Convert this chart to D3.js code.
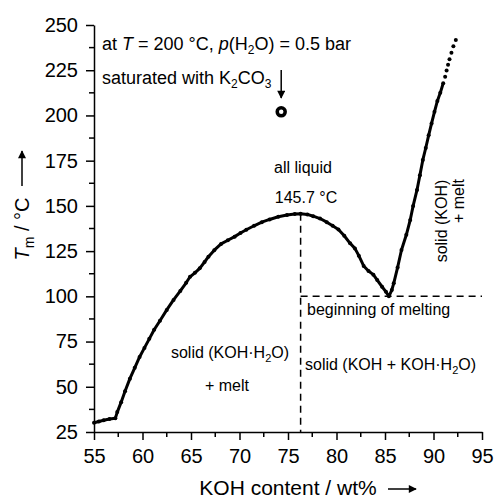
<!DOCTYPE html>
<html>
<head>
<meta charset="utf-8">
<script src="https://cdn.jsdelivr.net/npm/d3@7.9.0/dist/d3.min.js"></script>
<style>
  body { margin: 0; background: #fff; }
  svg { font-family: "Liberation Sans", Arial, sans-serif; }
</style>
</head>
<body>
<svg id="chart" width="495" height="501"></svg>
<script>
// measured melting curve (KOH wt%, Tm in °C)
const wt = [55.0, 55.5, 56.0, 56.6, 57.2, 57.4, 57.8, 58.2, 58.7, 59.2, 59.7, 60.2, 60.7, 61.2, 61.8,
  62.5, 63.2, 63.9, 64.5, 64.9, 65.4, 65.9, 66.4, 66.8, 67.4, 68.1, 68.8, 69.5, 70.1, 70.7,
  71.5, 72.3, 73.1, 74.0, 74.9, 75.7, 76.3, 77.0, 77.6, 78.3, 79.0, 79.6, 80.2, 80.8, 81.4,
  81.9, 82.3, 82.8, 83.3, 83.8, 84.2, 84.7, 85.1, 85.4, 85.7, 85.9, 86.3, 86.7, 87.2, 87.6,
  87.9, 88.3, 88.6, 88.9, 89.2, 89.5, 89.8, 90.1, 90.4, 90.7, 91.0];
const temp = [30.1, 30.8, 31.5, 32.2, 32.6, 36.0, 41.5, 47.5, 54.5, 60.5, 66.5, 71.5, 76.5, 81.5, 86.5,
  92.5, 98.0, 103.0, 107.5, 110.8, 113.0, 115.5, 119.0, 121.9, 125.5, 129.0, 131.0, 133.0, 135.0, 136.8,
  139.0, 141.0, 142.5, 144.0, 145.0, 145.5, 145.7, 145.3, 144.3, 143.0, 141.0, 139.0, 137.0, 133.5, 129.3,
  126.5, 122.5, 116.8, 114.0, 112.0, 109.0, 105.3, 102.5, 100.0, 103.5, 107.2, 116.0, 125.6, 134.0, 142.2,
  150.0, 158.8, 167.0, 175.4, 182.0, 189.0, 195.6, 202.0, 208.0, 212.5, 217.8];

// upper part shown only as dots
const wtDots = [91.2, 91.35, 91.5, 91.65, 91.85, 92.05, 92.3];
const tempDots = [221.4, 224.8, 228.0, 231.0, 234.6, 238.2, 241.7];

// K2CO3 saturated point
const satWt = [74.3];
const satTemp = [202];

// peak and eutectic
const peakWt = 76.3, peakT = 145.7, eutT = 100;

const xTicks = [55, 60, 65, 70, 75, 80, 85, 90, 95];
const yTicks = [25, 50, 75, 100, 125, 150, 175, 200, 225, 250];

const svg = d3.select('#chart');
const mLeft = 94, mRight = 482, mTop = 25, mBottom = 432;

const x = d3.scaleLinear().domain([55, 95]).range([mLeft, mRight]);
const y = d3.scaleLinear().domain([25, 250]).range([mBottom, mTop]);

const defs = svg.append('defs');
defs.append('marker')
  .attr('id', 'arr')
  .attr('viewBox', '0 0 10 10')
  .attr('refX', 9).attr('refY', 5)
  .attr('markerWidth', 10).attr('markerHeight', 8)
  .attr('markerUnits', 'userSpaceOnUse')
  .attr('orient', 'auto')
  .append('path').attr('d', 'M0,0 L10,5 L0,10 z').attr('fill', '#000');

//minor ticks
const xMinor = d3.range(57.5, 95, 5);
const yMinor = d3.range(37.5, 250, 25);

svg.selectAll('.xminor').data(xMinor).enter().append('line')
  .attr('x1', d => x(d)).attr('x2', d => x(d))
  .attr('y1', mBottom).attr('y2', mBottom + 5)
  .attr('stroke', '#000').attr('stroke-width', 1.5);
svg.selectAll('.yminor').data(yMinor).enter().append('line')
  .attr('x1', mLeft - 5).attr('x2', mLeft)
  .attr('y1', d => y(d)).attr('y2', d => y(d))
  .attr('stroke', '#000').attr('stroke-width', 1.5);

//axes
const xAxis = svg.append('g')
  .attr('transform', `translate(0,${mBottom})`)
  .call(d3.axisBottom(x).tickValues(xTicks).tickSize(8).tickPadding(9).tickSizeOuter(0));
const yAxis = svg.append('g')
  .attr('transform', `translate(${mLeft},0)`)
  .call(d3.axisLeft(y).tickValues(yTicks).tickSize(8).tickPadding(8).tickSizeOuter(0));

[xAxis, yAxis].forEach(g => {
  g.selectAll('path').attr('stroke-width', 1.5);
  g.selectAll('line').attr('stroke-width', 1.5);
  g.selectAll('text').attr('font-size', 20).attr('font-family', '"Liberation Sans", Arial, sans-serif').attr('fill', '#000');
});

//dashed guides
svg.append('line')
  .attr('x1', x(peakWt)).attr('x2', x(peakWt))
  .attr('y1', y(peakT)).attr('y2', mBottom)
  .attr('stroke', '#000').attr('stroke-width', 1.5).attr('stroke-dasharray', '7,5');
svg.append('line')
  .attr('x1', x(peakWt)).attr('x2', mRight)
  .attr('y1', y(eutT)).attr('y2', y(eutT))
  .attr('stroke', '#000').attr('stroke-width', 1.5).attr('stroke-dasharray', '7,5');

//curve
const pts = wt.map((d, i) => [d, temp[i]]);
const line = d3.line().x(d => x(d[0])).y(d => y(d[1]));
svg.append('path')
  .datum(pts)
  .attr('d', line)
  .attr('fill', 'none')
  .attr('stroke', '#000')
  .attr('stroke-width', 3)
  .attr('stroke-linejoin', 'round');
svg.selectAll('.pt').data(pts).enter().append('circle')
  .attr('cx', d => x(d[0])).attr('cy', d => y(d[1]))
  .attr('r', 2).attr('fill', '#000');

const dots = wtDots.map((d, i) => [d, tempDots[i]]);
svg.selectAll('.dot').data(dots).enter().append('circle')
  .attr('cx', d => x(d[0])).attr('cy', d => y(d[1]))
  .attr('r', 2).attr('fill', '#000');

//saturated point
svg.selectAll('.sat').data(satWt).enter().append('circle')
  .attr('cx', d => x(d)).attr('cy', (d, i) => y(satTemp[i]))
  .attr('r', 4).attr('fill', '#fff').attr('stroke', '#000').attr('stroke-width', 3.5);
svg.append('line')
  .attr('x1', x(satWt[0])).attr('x2', x(satWt[0]))
  .attr('y1', 70).attr('y2', 98)
  .attr('stroke', '#000').attr('stroke-width', 1.5)
  .attr('marker-end', 'url(#arr)');

//labels
function label(tx, ty, anchor, size) {
  return svg.append('text').attr('x', tx).attr('y', ty)
    .attr('font-size', size || 16).attr('text-anchor', anchor || 'start').attr('fill', '#000');
}

let t1 = label(102, 50, 'start', 18);
t1.append('tspan').text('at ');
t1.append('tspan').attr('font-style', 'italic').text('T');
t1.append('tspan').text(' = 200 °C, ');
t1.append('tspan').attr('font-style', 'italic').text('p');
t1.append('tspan').text('(H');
t1.append('tspan').attr('font-size', 12).attr('dy', 4).text('2');
t1.append('tspan').attr('dy', -4).text('O) = 0.5 bar');

let t2 = label(102, 84, 'start', 18);
t2.append('tspan').text('saturated with K');
t2.append('tspan').attr('font-size', 12).attr('dy', 4).text('2');
t2.append('tspan').attr('dy', -4).text('CO');
t2.append('tspan').attr('font-size', 12).attr('dy', 4).text('3');

label(303, 173, 'middle').text('all liquid');
label(306, 203, 'middle').text('145.7 °C');
label(307, 315).text('beginning of melting');

let t3 = label(305, 370);
t3.append('tspan').text('solid (KOH + KOH·H');
t3.append('tspan').attr('font-size', 11).attr('dy', 4).text('2');
t3.append('tspan').attr('dy', -4).text('O)');

let t4 = label(230, 358, 'middle');
t4.append('tspan').text('solid (KOH·H');
t4.append('tspan').attr('font-size', 11).attr('dy', 4).text('2');
t4.append('tspan').attr('dy', -4).text('O)');
label(227, 391, 'middle').text('+ melt');

label(0, 0, 'middle').attr('transform', 'translate(447,221) rotate(-90)').text('solid (KOH)');
label(0, 0, 'middle').attr('transform', 'translate(464,201) rotate(-90)').text('+ melt');

//axis titles
svg.append('text').attr('x', 288).attr('y', 495)
  .attr('font-size', 21).attr('text-anchor', 'middle').text('KOH content / wt%');
svg.append('line').attr('x1', 388).attr('x2', 416).attr('y1', 489).attr('y2', 489)
  .attr('stroke', '#000').attr('stroke-width', 1.5).attr('marker-end', 'url(#arr)');

const yt = svg.append('text').attr('transform', 'translate(29,229) rotate(-90)')
  .attr('font-size', 20).attr('text-anchor', 'middle');
yt.append('tspan').attr('font-style', 'italic').text('T');
yt.append('tspan').attr('font-size', 14).attr('dy', 5).text('m');
yt.append('tspan').attr('dy', -5).text(' / °C');
svg.append('line').attr('x1', 22).attr('x2', 22).attr('y1', 186).attr('y2', 151)
  .attr('stroke', '#000').attr('stroke-width', 1.5).attr('marker-end', 'url(#arr)');
</script>
</body>
</html>
